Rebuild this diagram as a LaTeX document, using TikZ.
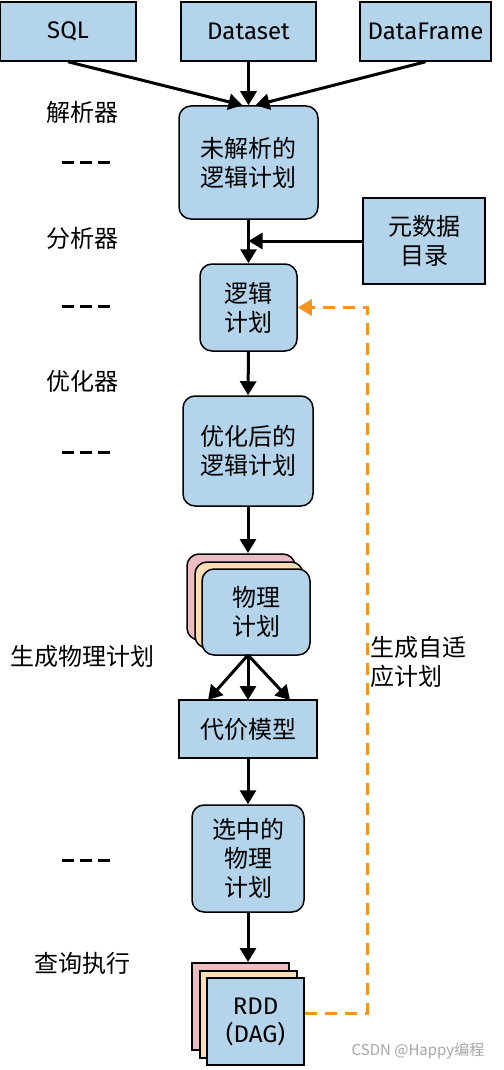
\documentclass[tikz,border=0pt]{standalone}
\usepackage{fontspec}
\setmainfont{Fira Sans}
\newfontfamily\cjk{Noto Sans CJK SC}
\usetikzlibrary{arrows.meta}
\definecolor{planblue}{HTML}{B3D4EA}
\definecolor{planpink}{HTML}{EBBDC0}
\definecolor{planpeach}{HTML}{FDDDB5}
\definecolor{adaptorange}{HTML}{F7941D}
\tikzset{
  plan/.style={draw,line width=1.5pt,fill=planblue,align=center,inner sep=0pt,
    font=\cjk\fontsize{24}{29}\selectfont},
  planlat/.style={plan,font=\fontsize{24}{28}\selectfont},
  roundplan/.style={plan,rounded corners=12pt},
  flow/.style={line width=3pt,-{Triangle[length=14pt,width=16pt]}},
  stage/.style={font=\cjk\fontsize{24}{29}\selectfont},
  gap/.style={line width=3pt,dash pattern=on 12pt off 6pt},
}
\begin{document}
\begin{tikzpicture}[x=1pt,y=-1pt]
\useasboundingbox (0,0) rectangle (503,1070);
% sources
\node[planlat,minimum width=136pt,minimum height=59pt] (sql) at (68,31.5) {SQL};
\node[planlat,minimum width=135pt,minimum height=59pt] (dataset) at (248.5,31.5) {Dataset};
\node[planlat,minimum width=131pt,minimum height=59pt] (dataframe) at (425.5,31.5) {DataFrame};
% plans
\node[roundplan,minimum width=139pt,minimum height=113pt] (unresolved) at (248.5,162.5) {未解析的\\逻辑计划};
\node[plan,minimum width=122pt,minimum height=86pt] (catalog) at (424,241) {元数据\\目录};
\node[roundplan,minimum width=97pt,minimum height=87pt] (logical) at (248.5,307.5) {逻辑\\计划};
\node[roundplan,minimum width=130pt,minimum height=110pt] (optimized) at (248,451) {优化后的\\逻辑计划};
% physical plans, stacked
\path[draw,line width=1.5pt,fill=planpink,rounded corners=12pt] (187,554) rectangle ++(108,86);
\path[draw,line width=1.5pt,fill=planpeach,rounded corners=12pt] (195,562) rectangle ++(108,86);
\node[roundplan,minimum width=108pt,minimum height=86pt] (physical) at (256,612) {物理\\计划};
\node[plan,minimum width=138pt,minimum height=58pt] (cost) at (248,729) {代价模型};
\node[roundplan,minimum width=112pt,minimum height=107pt] (selected) at (248,858.5) {选中的\\物理\\计划};
% rdd, stacked
\path[draw,line width=1.5pt,fill=planpink] (192,963) rectangle ++(97,87);
\path[draw,line width=1.5pt,fill=planpeach] (200,971) rectangle ++(97,87);
\node[planlat,minimum width=97pt,minimum height=87pt] (rdd) at (255.5,1021.5) {RDD\\(DAG)};
% stage labels
\node[stage] (parser) at (82,112) {解析器};
\node[stage] (analyzer) at (82,238) {分析器};
\node[stage] (optimizer) at (82,381) {优化器};
\node[stage] (planner) at (82,656) {生成物理计划};
\node[stage] (execution) at (82,963) {查询执行};
\draw[gap] (62,162) -- (111,162);
\draw[gap] (62,306) -- (111,306);
\draw[gap] (62,452) -- (111,452);
\draw[gap] (62,860) -- (111,860);
% arrows
\draw[flow] (sql.south) -- ([xshift=-6pt]unresolved.north);
\draw[flow] (dataset.south) -- (unresolved.north);
\draw[flow] (dataframe.south) -- ([xshift=7pt]unresolved.north);
\draw[flow] (unresolved.south) -- (logical.north);
\draw[flow] (catalog.west) -- (catalog.west -| unresolved.south);
\draw[flow] (logical.south) -- (optimized.north);
\draw[flow] (optimized.south) -- (248,553);
\draw[flow] (248,655) -- (208,700);
\draw[flow] (248,655) -- (248,700);
\draw[flow] (248,655) -- (290,700);
\draw[flow] (cost.south) -- (selected.north);
\draw[flow] (selected.south) -- (248,962);
% adaptive feedback
\coordinate (adapt) at (367,1013);
\draw[line width=3pt,adaptorange,dash pattern=on 12pt off 8pt,-{Triangle[length=14pt,width=16pt]}]
  (rdd.east |- adapt) -- (adapt) |- (logical.east);
\node[stage,align=left] (adaptive) at (418,662) {生成自适\\应计划};
\node[font=\cjk\fontsize{15}{17}\selectfont,text=gray!70] (mark) at (418,1051) {CSDN @Happy编程};
\end{tikzpicture}
\end{document}
